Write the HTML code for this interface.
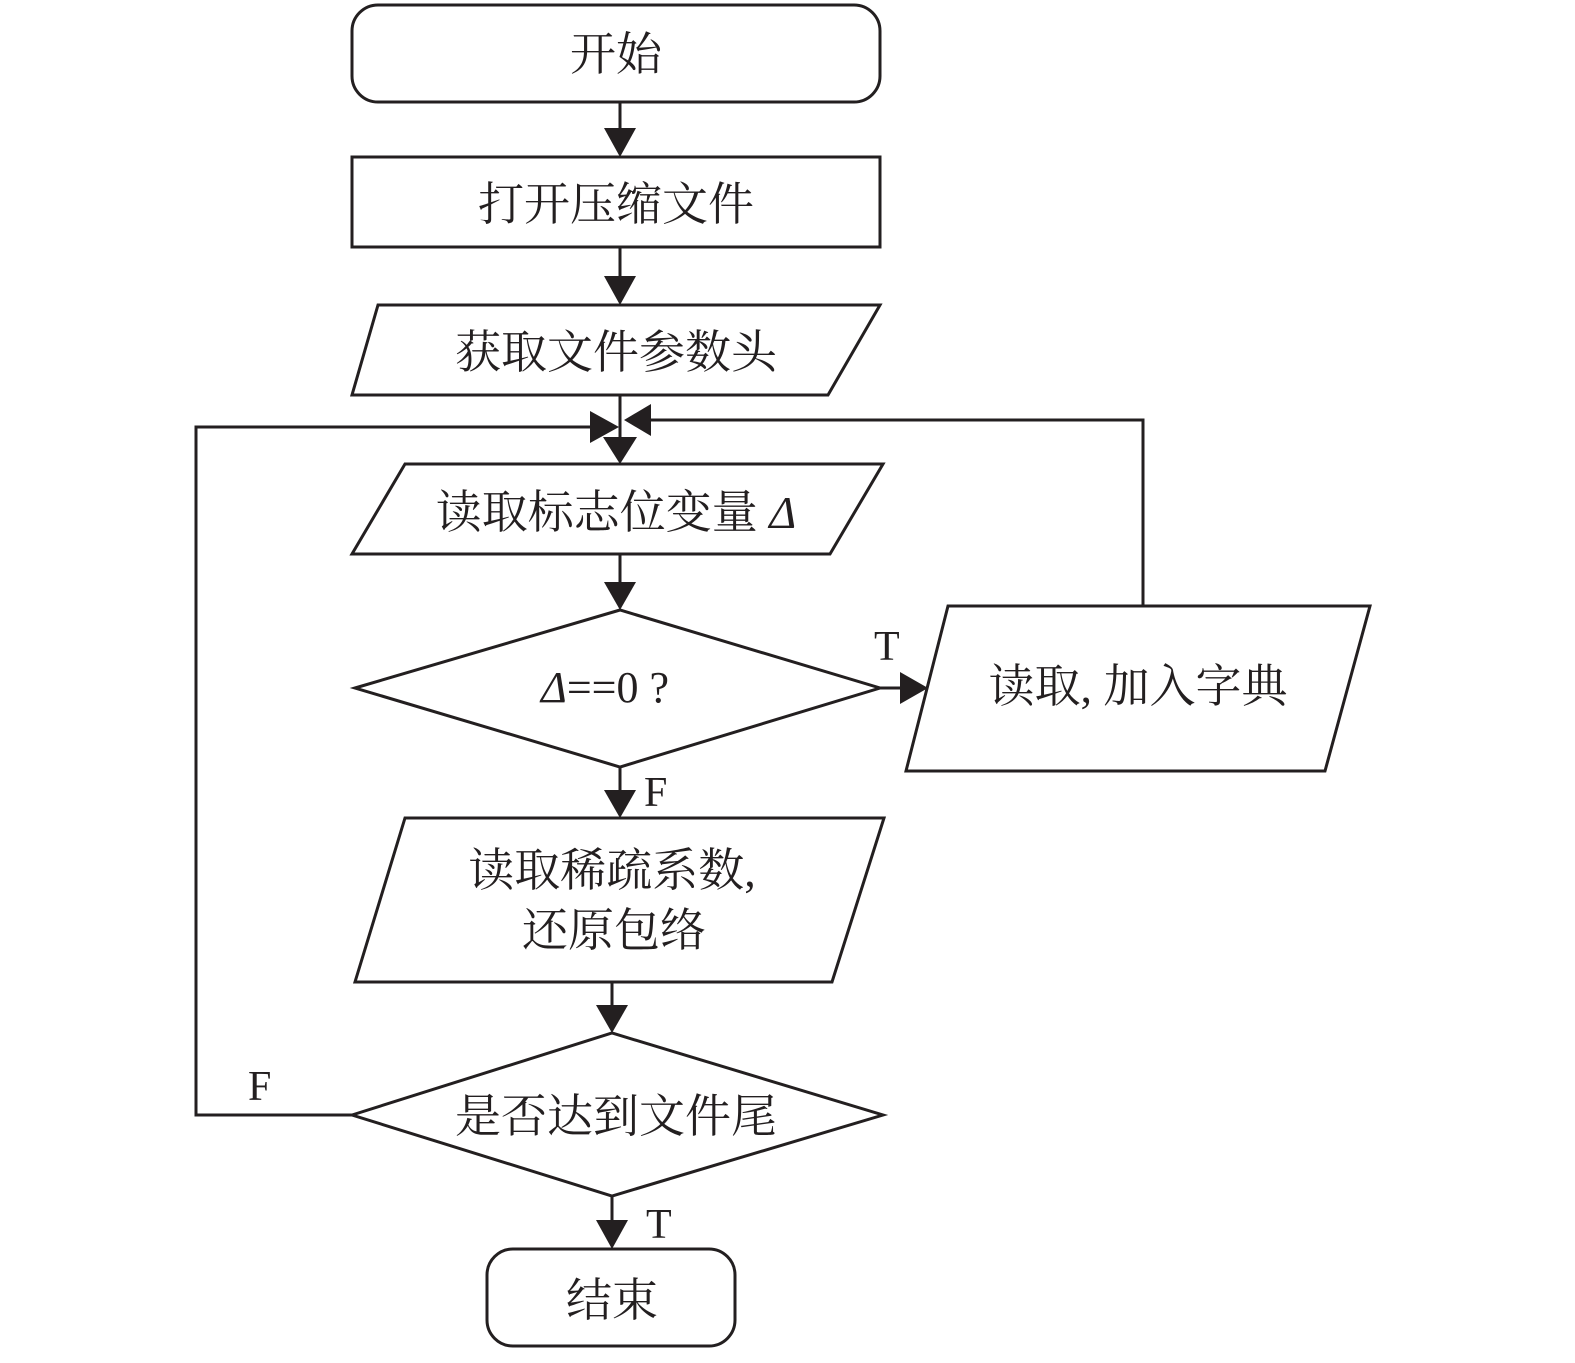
<!DOCTYPE html>
<html><head><meta charset="utf-8"><style>
html,body{margin:0;padding:0;background:#fff;}
svg text{font-family:"Liberation Serif","Noto Serif CJK SC",serif;fill:#231f20;}
</style></head><body>
<svg width="1575" height="1358" viewBox="0 0 1575 1358" xmlns="http://www.w3.org/2000/svg">
<g fill="none" stroke="#231f20" stroke-width="3">
<rect x="352" y="5" width="528" height="97" rx="26"/>
<rect x="352" y="157" width="528" height="90"/>
<polygon points="378,305 880,305 828,395 352,395"/>
<polygon points="405,464 883,464 830,554 352,554"/>
<polygon points="355,688 620,610 880,688 620,767"/>
<polygon points="948,606 1370,606 1325,771 906,771"/>
<polygon points="405,818 884,818 832,982 355,982"/>
<polygon points="352,1115 612,1033 883,1115 612,1196"/>
<rect x="487" y="1249" width="248" height="97" rx="26"/>
<line x1="620" y1="102" x2="620" y2="130"/>
<line x1="620" y1="247" x2="620" y2="278"/>
<line x1="620" y1="395" x2="620" y2="440"/>
<line x1="620" y1="554" x2="620" y2="584"/>
<line x1="620" y1="767" x2="620" y2="792"/>
<line x1="612" y1="982" x2="612" y2="1007"/>
<line x1="612" y1="1196" x2="612" y2="1222"/>
<polyline points="1143,606 1143,420 648,420"/>
<polyline points="352,1115 196,1115 196,427 592,427"/>
<line x1="880" y1="688" x2="902" y2="688"/>
</g>
<g fill="#231f20">
<polygon points="604,128 636,128 620,157"/>
<polygon points="604,276 636,276 620,305"/>
<polygon points="603,437 637,437 620,464"/>
<polygon points="604,582 636,582 620,610"/>
<polygon points="604,790 636,790 620,818"/>
<polygon points="596,1005 628,1005 612,1033"/>
<polygon points="596,1220 628,1220 612,1249"/>
<polygon points="590,411 590,443 619,427"/>
<polygon points="651,404 651,436 624,420"/>
<polygon points="900,672 900,704 928,688"/>
</g>
<g font-size="46" text-anchor="middle">
<text x="616" y="70">开始</text>
<text x="616" y="220">打开压缩文件</text>
<text x="616" y="368">获取文件参数头</text>
<text x="616" y="528">读取标志位变量 <tspan font-style="italic">Δ</tspan></text>
<text x="605" y="702" font-size="44"><tspan font-style="italic">Δ</tspan>==0 ?</text>
<text x="1138" y="702">读取, 加入字典</text>
<text x="612" y="886">读取稀疏系数,</text>
<text x="614" y="946">还原包络</text>
<text x="616" y="1132">是否达到文件尾</text>
<text x="612" y="1316">结束</text>
</g>
<g font-size="42">
<text x="874" y="660">T</text>
<text x="644" y="806">F</text>
<text x="248" y="1100">F</text>
<text x="646" y="1238">T</text>
</g>
</svg>
</body></html>
